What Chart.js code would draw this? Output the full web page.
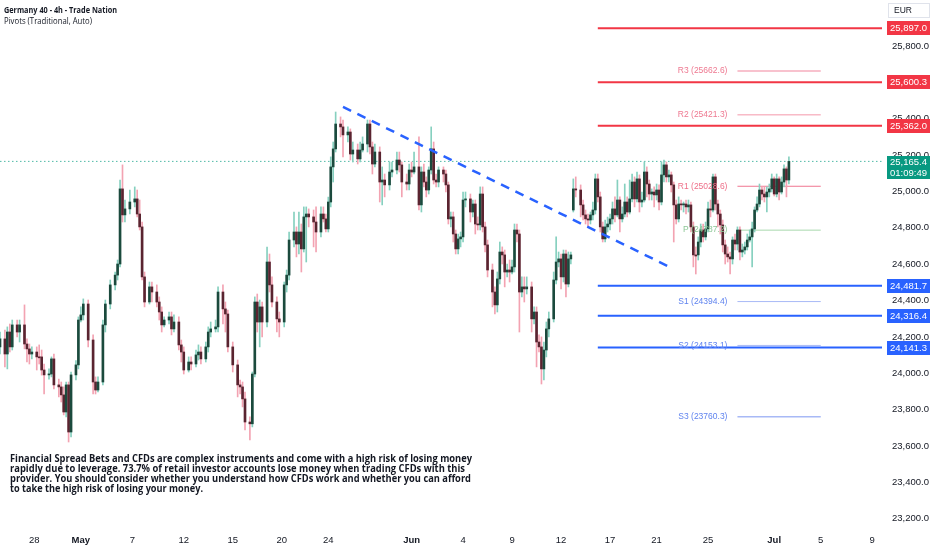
<!DOCTYPE html>
<html>
<head>
<meta charset="utf-8">
<title>Germany 40 - 4h - Trade Nation</title>
<script src="https://cdn.jsdelivr.net/npm/chart.js@4.4.1/dist/chart.umd.min.js"></script>
<style>
  html, body { margin: 0; padding: 0; background: #ffffff; }
  #wrap { position: relative; width: 932px; height: 550px; overflow: hidden; }
  #chart { position: absolute; left: 0; top: 0; }
  .fit { display: block; width: max-content; white-space: nowrap; transform-origin: 0 50%; }
  #title { position: absolute; left: 4px; top: 4px; font-family: "Open Sans", "Liberation Sans", sans-serif;
           font-size: 9px; line-height: 11px; color: #131722; }
  #title .t1 { font-weight: 700; }
  #disclaimer { position: absolute; left: 10px; top: 453px; font-family: "Open Sans", "Liberation Sans", sans-serif;
                font-size: 10.5px; line-height: 10px; font-weight: 700; color: #131722; }
</style>
</head>
<body>
<div id="wrap">
  <canvas id="chart" width="932" height="550"></canvas>
  <div id="title">
    <div class="t1 fit" data-w="113">Germany 40 - 4h - Trade Nation</div>
    <div class="t2 fit" data-w="88">Pivots (Traditional, Auto)</div>
  </div>
  <div id="disclaimer">
    <div class="fit" data-w="462">Financial Spread Bets and CFDs are complex instruments and come with a high risk of losing money</div>
    <div class="fit" data-w="455">rapidly due to leverage. 73.7% of retail investor accounts lose money when trading CFDs with this</div>
    <div class="fit" data-w="461">provider. You should consider whether you understand how CFDs work and whether you can afford</div>
    <div class="fit" data-w="193">to take the high risk of losing your money.</div>
  </div>
</div>
<script>
// 4h bar number of each candle (counted from the first bar on screen)
const bars = [
  0,2,3,4,5,7,8,10,11,12,
  13,15,16,17,18,20,21,22,24,25,
  26,27,28,29,31,32,33,34,36,38,
  39,40,42,43,45,47,48,49,50,51,
  53,55,56,57,58,59,61,62,64,65,
  66,67,69,70,71,73,74,75,77,78,
  80,81,82,84,85,86,88,89,91,92,
  93,95,97,98,99,100,102,103,104,105,
  106,107,109,110,111,113,114,116,117,118,
  120,121,122,123,124,125,126,128,129,131,
  132,133,134,135,136,137,139,140,142,143,
  144,146,147,148,150,151,152,153,155,156,
  157,159,160,162,163,164,166,167,168,169,
  171,172,173,174,175,176,177,178,179,181,
  182,183,184,185,186,187,188,189,190,192,
  193,194,195,196,197,198,199,201,202,203,
  204,205,206,207,208,209,210,211,212,213,
  214,215,217,218,219,220,221,222,223,224,
  226,227,228,229,230,231,232,233,234,235,
  237,238,239,240,241,242,243,244,245,246,
  247,248,249,250,251,252,253,254,255,256,
  257,258,259,260,261,262,263,264,265,266,
  267,268,269,270,271,272,273,274,275,276,
  277,278,279,280,281,282,283,284,285,286,
  287,288,289,290,291,292,293,294,295,296,
  297,298,299,300,301,302,303,304,305,306,
  307,308,309,310,311,312,313,314,315,316,
  317,318,319,320,321,322
];

const opens = [
  24145,24189,24106,24227,24145,24266,24227,24266,24161,24134,
  24106,24117,24090,24090,24018,23991,23996,24079,23936,23925,
  23881,23787,23936,23677,23991,24046,24293,24321,24381,24183,
  23952,23908,23952,24266,24381,24486,24540,24601,25014,24871,
  24904,24942,24959,24876,24805,24530,24392,24475,24447,24392,
  24337,24266,24293,24310,24244,24282,24156,24117,24018,24062,
  24051,24101,24117,24079,24145,24227,24244,24255,24447,24354,
  24326,24145,24046,23936,23925,23859,23732,23722,23996,24392,
  24282,24365,24282,24612,24486,24392,24299,24282,24486,24540,
  24733,24777,24711,24777,24684,24860,24876,24860,24832,24777,
  24876,24849,24794,24942,25135,25234,25371,25355,25311,25327,
  25206,25228,25179,25228,25261,25371,25245,25151,25217,25052,
  25063,25036,25107,25118,25173,25146,25052,25041,25118,25107,
  25135,24926,25107,25052,25008,25118,25234,25063,25052,25118,
  25096,25036,24849,24860,24766,24684,24739,24750,24953,24959,
  24887,24931,24821,24816,24986,24805,24706,24568,24447,24376,
  24519,24667,24651,24557,24568,24557,24585,24788,24766,24447,
  24475,24464,24475,24299,24337,24172,24145,24024,24128,24244,
  24299,24513,24612,24629,24530,24656,24491,24629,24898,25014,
  25008,24926,24871,24849,24843,24871,24898,25069,24970,24805,
  24739,24805,24821,24849,24904,24871,24953,24849,24876,24942,
  24887,24959,25052,24959,25069,24942,24953,25107,25041,24986,
  24997,24981,25008,24942,25091,25146,25080,25091,25036,24926,
  24849,24931,24926,24931,24915,24926,24805,24651,24651,24722,
  24788,24750,24794,24904,24898,25080,24931,24876,24816,24706,
  24656,24640,24629,24733,24711,24788,24667,24678,24695,24733,
  24750,24794,24898,24931,25008,24986,24970,24997,25014,25069,
  24986,25069,24997,25052,25124,25063
];

const highs = [
  24227,24238,24255,24271,24293,24293,24293,24376,24189,24161,
  24145,24145,24156,24128,24051,24024,24090,24106,23968,23952,
  23925,23952,23952,24007,24070,24310,24365,24409,24403,24211,
  23980,23980,24293,24403,24513,24557,24623,25063,25146,24953,
  25008,25025,25008,24953,24832,24557,24502,24502,24486,24420,
  24365,24310,24337,24337,24321,24310,24183,24145,24090,24090,
  24128,24156,24145,24172,24255,24282,24293,24475,24486,24392,
  24348,24172,24073,23963,23952,23897,23760,24007,24420,24436,
  24403,24392,24694,24656,24530,24420,24337,24502,24568,24777,
  24887,24805,24887,24821,24915,24915,24904,24898,24915,24915,
  24915,24876,24969,25190,25272,25437,25410,25393,25355,25344,
  25272,25261,25272,25300,25393,25393,25272,25261,25245,25135,
  25096,25162,25162,25217,25217,25162,25096,25151,25162,25217,
  25300,25135,25151,25080,25135,25355,25272,25096,25135,25135,
  25118,25052,24887,24887,24788,24766,24777,24997,24997,24986,
  24953,24953,24860,25025,25025,24832,24733,24601,24475,24557,
  24722,24695,24678,24601,24623,24623,24821,24821,24788,24530,
  24530,24530,24502,24365,24365,24211,24200,24172,24282,24337,
  24557,24750,24667,24656,24678,24678,24667,24667,25069,25080,
  25036,24953,24898,24876,24887,24942,25096,25096,24997,24832,
  24843,24859,24876,24942,24970,25063,24970,24915,25041,24970,
  25063,25096,25080,25107,25091,24997,25162,25135,25063,25014,
  25025,25041,25036,25162,25173,25162,25118,25107,25052,24953,
  24970,24953,24942,24953,24953,24942,24832,24695,24750,24821,
  24821,24832,24942,24953,25096,25096,24953,24898,24843,24733,
  24695,24667,24750,24766,24805,24805,24711,24722,24766,24788,
  24832,24915,24970,25041,25025,25025,25025,25041,25096,25080,
  25096,25080,25080,25146,25135,25190
];

const lows = [
  24106,24035,24024,24117,24128,24200,24172,24134,24062,24051,
  24079,24018,24051,23990,23886,23968,23980,23914,23870,23842,
  23771,23760,23622,23650,23963,24024,24282,24293,24145,23886,
  23886,23897,23936,24227,24354,24458,24513,24585,24832,24832,
  24876,24915,24860,24788,24513,24365,24381,24392,24365,24293,
  24227,24255,24271,24211,24227,24128,24062,23996,24007,24018,
  24035,24073,24051,24062,24117,24200,24227,24227,24271,24227,
  24117,24007,23870,23886,23815,23688,23633,23705,23980,24227,
  24145,24200,24255,24447,24365,24227,24200,24255,24447,24513,
  24695,24640,24656,24557,24667,24612,24805,24695,24667,24750,
  24832,24777,24777,24915,25052,25217,25300,25190,25272,25173,
  25162,25151,25162,25217,25217,25206,25096,25135,24942,24926,
  24970,25008,25080,25096,25107,24970,25008,25008,25080,25096,
  24898,24887,25025,24970,24986,25096,25041,25025,25025,25052,
  24997,24821,24805,24722,24656,24656,24695,24722,24915,24832,
  24860,24766,24788,24788,24777,24667,24530,24365,24326,24337,
  24491,24601,24475,24530,24502,24546,24557,24722,24227,24420,
  24392,24436,24227,24271,24035,24117,23941,23963,24090,24200,
  24282,24491,24585,24464,24502,24420,24475,24601,24887,24970,
  24860,24843,24821,24805,24821,24843,24876,24942,24777,24722,
  24722,24777,24788,24821,24832,24860,24777,24832,24860,24860,
  24876,24942,24915,24942,24887,24915,24942,24970,24953,24953,
  24915,24953,24898,24926,25052,25052,25052,24997,24722,24821,
  24832,24898,24887,24876,24887,24777,24585,24546,24623,24695,
  24722,24733,24777,24860,24887,24898,24805,24766,24667,24601,
  24612,24546,24601,24678,24678,24623,24640,24656,24678,24722,
  24585,24777,24887,24915,24953,24942,24887,24970,24997,24975,
  24970,24953,24986,25025,24970,25041
];

const closes = [
  24189,24106,24227,24145,24266,24227,24266,24161,24134,24106,
  24117,24090,24085,24018,23991,23996,24079,23936,23925,23881,
  23787,23936,23677,23991,24046,24293,24321,24381,24183,23952,
  23908,23952,24266,24381,24486,24540,24601,25014,24871,24904,
  24942,24959,24876,24805,24530,24392,24475,24447,24392,24337,
  24266,24293,24310,24244,24282,24156,24117,24018,24062,24051,
  24101,24117,24079,24145,24227,24244,24255,24447,24354,24326,
  24145,24046,23936,23925,23859,23732,23722,23996,24392,24282,
  24365,24282,24612,24486,24392,24299,24282,24486,24540,24733,
  24777,24711,24777,24684,24860,24876,24860,24832,24777,24876,
  24849,24794,24942,25135,25234,25371,25355,25311,25327,25206,
  25228,25179,25228,25261,25371,25245,25151,25217,25052,25063,
  25036,25107,25118,25173,25146,25052,25041,25118,25107,25135,
  24926,25107,25052,25008,25118,25234,25063,25052,25118,25096,
  25036,24849,24860,24766,24684,24739,24750,24953,24959,24887,
  24931,24821,24816,24986,24805,24706,24568,24447,24376,24519,
  24667,24651,24557,24568,24557,24585,24788,24766,24447,24475,
  24464,24475,24299,24337,24172,24145,24024,24128,24244,24299,
  24513,24612,24629,24530,24656,24491,24629,24651,25014,25008,
  24926,24871,24849,24843,24871,24898,25069,24970,24805,24739,
  24805,24821,24849,24904,24871,24953,24849,24876,24942,24887,
  24959,25052,24959,25069,24942,24953,25107,25041,24986,24997,
  24981,25008,24942,25091,25146,25080,25091,25036,24926,24849,
  24931,24926,24931,24915,24926,24805,24651,24645,24722,24788,
  24750,24794,24904,24898,25080,24931,24876,24816,24706,24656,
  24640,24629,24733,24711,24788,24667,24678,24695,24733,24750,
  24794,24898,24931,25008,24986,24970,24997,25014,25069,24986,
  25069,24997,25052,25124,25063,25165.4
];

// time axis labels (bar number where each date label sits)
const xTickBars = [14, 33, 54, 75, 95, 115, 134, 168, 189, 209, 229, 249, 268, 289, 316, 335, 356];
const xTickLabels = ['28', 'May', '7', '12', '15', '20', '24', 'Jun', '4', '9', '12', '17', '21', '25', 'Jul', '5', '9'];
const monthLabels = ['May', 'Jun', 'Jul'];

// price axis
const yTickValues = [23200, 23400, 23600, 23800, 24000, 24200, 24400, 24600, 24800, 25000, 25200, 25400, 25600, 25800];

// drawn horizontal levels
const resistanceLevels = [25897.0, 25600.3, 25362.0];
const supportLevels = [24481.7, 24316.4, 24141.3];
const levelStartBar = 244;

// pivots (traditional)
const pivotNames = ['R3', 'R2', 'R1', 'P', 'S1', 'S2', 'S3'];
const pivotValues = [25662.6, 25421.3, 25028.6, 24787.2, 24394.4, 24153.1, 23760.3];
const pivotStartBar = 301;
const pivotEndBar = 335;

// dashed trend line
const trendBars = [140, 274];
const trendPrices = [25465, 24580];

const lastPrice = 25165.4;
const countdown = '01:09:49';

// ---- styles ----
const RED = '#f23645';
const BLUE = '#2962ff';
const GREEN = '#089981';
const TEXT = '#131722';
const pivotLineColors = ['#f6aebe', '#f497aa', '#f07590', '#a9d8ad', '#a8b9f6', '#a8b9f6', '#a8b9f6'];
const pivotTextColors = ['#ee7890', '#ee7890', '#ee6f89', '#8cc796', '#5f83ef', '#5f83ef', '#5f83ef'];
const pivotWidths = [1.5, 1, 1, 1, 1, 1, 1.5];

const fmt = v => v.toLocaleString('en-US', { minimumFractionDigits: 1, maximumFractionDigits: 1 });

const isUp = bars.map((b, i) => closes[i] >= opens[i]);

function hLine(value, from, to, color, width, order) {
    return {
        type: 'line',
        data: [{ x: from, y: value }, { x: to, y: value }],
        borderColor: color,
        borderWidth: width,
        pointRadius: 0,
        order: order
    };
}

const datasets = [];

// candle bodies (drawn on top of wicks)
datasets.push({
    type: 'bar',
    data: bars.map((b, i) => ({ x: b, y: [opens[i], closes[i]] })),
    backgroundColor: isUp.map(u => u ? '#1b4a3d' : '#5a2430'),
    barThickness: 2,
    minBarLength: 1,
    grouped: false,
    order: 1
});
// candle wicks
datasets.push({
    type: 'bar',
    data: bars.map((b, i) => ({ x: b, y: [lows[i], highs[i]] })),
    backgroundColor: isUp.map(u => u ? '#86d0bf' : '#f3a3b2'),
    barThickness: 1,
    grouped: false,
    order: 2
});

// trend line
datasets.push({
    type: 'line',
    data: trendBars.map((b, i) => ({ x: b, y: trendPrices[i] })),
    borderColor: BLUE,
    borderWidth: 2.5,
    borderDash: [9, 7],
    pointRadius: 0,
    order: 0
});

resistanceLevels.forEach(v => datasets.push(hLine(v, levelStartBar, 360, RED, 2, 3)));
supportLevels.forEach(v => datasets.push(hLine(v, levelStartBar, 360, BLUE, 2, 3)));
pivotValues.forEach((v, i) => datasets.push(hLine(v, pivotStartBar, pivotEndBar, pivotLineColors[i], pivotWidths[i], 4)));

// last price dotted line
const lastLine = hLine(lastPrice, 0, 360, '#4fb9a6', 1, 5);
lastLine.borderDash = [1.5, 2.5];
datasets.push(lastLine);

// labels, price tags and currency box
const overlay = {
    id: 'overlay',
    afterDatasetsDraw(chart) {
        const c = chart.ctx;
        const xs = chart.scales.x, ys = chart.scales.y;
        c.save();
        c.font = '8.5px "Liberation Sans", sans-serif';
        c.textAlign = 'right';
        c.textBaseline = 'middle';
        const lx = xs.getPixelForValue(pivotStartBar) - 10;
        pivotValues.forEach((v, i) => {
            c.fillStyle = pivotTextColors[i];
            c.fillText(pivotNames[i] + ' (' + v.toFixed(1) + ')', lx, ys.getPixelForValue(v));
        });
        c.restore();
    },
    afterDraw(chart) {
        const c = chart.ctx;
        const ys = chart.scales.y;
        c.save();
        c.textAlign = 'center';
        c.textBaseline = 'middle';
        c.font = '9.5px "Liberation Sans", sans-serif';

        function tag(value, color) {
            const y = Math.round(ys.getPixelForValue(value));
            c.fillStyle = color;
            c.fillRect(887, y - 7, 43, 14);
            c.fillStyle = '#ffffff';
            c.fillText(fmt(value), 908.5, y + 0.5);
        }
        resistanceLevels.forEach(v => tag(v, RED));
        supportLevels.forEach(v => tag(v, BLUE));

        // last price tag with bar countdown
        const ly = Math.round(ys.getPixelForValue(lastPrice));
        c.fillStyle = GREEN;
        c.fillRect(887, ly - 5, 43, 23);
        c.fillStyle = '#ffffff';
        c.fillText(fmt(lastPrice), 908.5, ly + 1.5);
        c.fillText(countdown, 908.5, ly + 12.5);

        // currency box
        c.strokeStyle = '#e0e3eb';
        c.lineWidth = 1;
        c.fillStyle = '#ffffff';
        c.fillRect(888, 3, 42, 14);
        c.strokeRect(888.5, 3.5, 41, 14);
        c.fillStyle = TEXT;
        c.textAlign = 'left';
        c.font = '8.5px "Liberation Sans", sans-serif';
        c.fillText('EUR', 894, 11);
        c.restore();
    }
};

new Chart(document.getElementById('chart'), {
    type: 'bar',
    data: { datasets: datasets },
    options: {
        responsive: false,
        animation: false,
        events: [],
        layout: { padding: 0 },
        plugins: { legend: { display: false }, tooltip: { enabled: false } },
        scales: {
            x: {
                type: 'linear',
                min: 0,
                max: 360,
                offset: false,
                grid: { display: false, drawTicks: false },
                border: { display: false },
                afterBuildTicks: scale => { scale.ticks = xTickBars.map(v => ({ value: v })); },
                afterFit: scale => {
                    scale.height = 22;
                    scale.paddingLeft = 0;
                    scale.paddingRight = 0;
                },
                ticks: {
                    autoSkip: false,
                    maxRotation: 0,
                    padding: 7,
                    color: TEXT,
                    font: ctx => ({
                        family: '"Liberation Sans", sans-serif',
                        size: 9.5,
                        weight: ctx.tick && monthLabels.includes(ctx.tick.label) ? 'bold' : 'normal'
                    }),
                    callback: v => {
                        const i = xTickBars.indexOf(v);
                        return i >= 0 ? xTickLabels[i] : '';
                    }
                }
            },
            y: {
                position: 'right',
                min: 23149,
                max: 26053,
                grid: { display: false, drawTicks: false },
                border: { display: false },
                afterBuildTicks: scale => { scale.ticks = yTickValues.map(v => ({ value: v })); },
                afterFit: scale => {
                    scale.width = 50;
                    scale.paddingTop = 0;
                    scale.paddingBottom = 0;
                },
                ticks: {
                    padding: 10,
                    color: TEXT,
                    font: { family: '"Liberation Sans", sans-serif', size: 9.5 },
                    callback: v => fmt(v)
                }
            }
        }
    },
    plugins: [overlay]
});

// squeeze the html text lines to the widths seen in the picture
function fitText() {
    document.querySelectorAll('.fit').forEach(el => {
        el.style.transform = '';
        const w = el.getBoundingClientRect().width;
        if (w > 0) el.style.transform = 'scaleX(' + (el.dataset.w / w) + ')';
    });
}
fitText();
document.fonts.ready.then(fitText);
</script>
</body>
</html>
